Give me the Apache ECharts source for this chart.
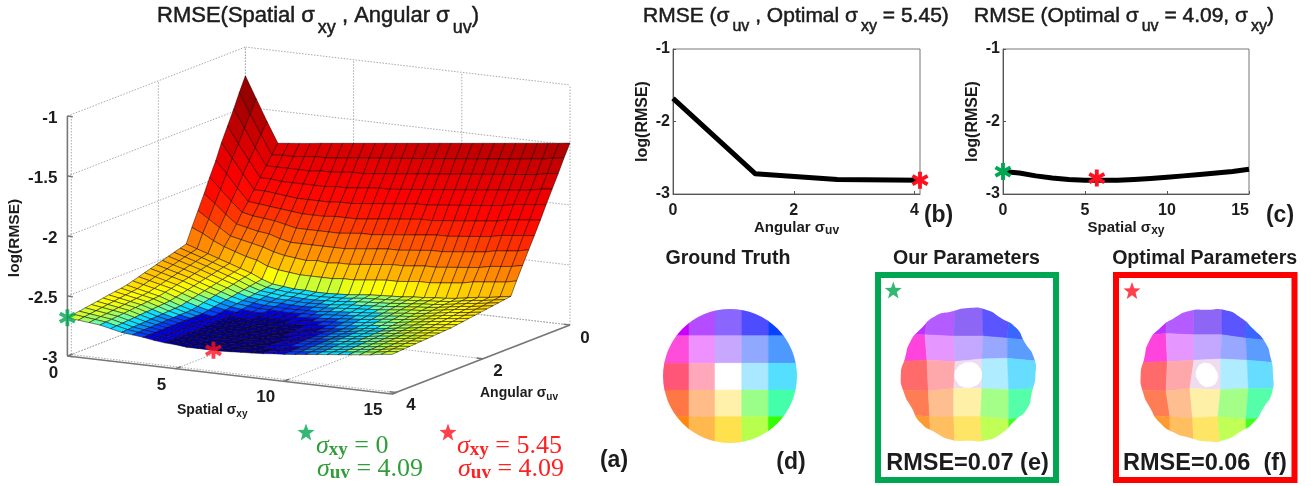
<!DOCTYPE html>
<html><head><meta charset="utf-8">
<style>html,body{margin:0;padding:0;background:#fff}#main{width:1312px;height:486px;filter:blur(0.6px)}</style>
<script src="https://cdn.jsdelivr.net/npm/echarts@6/dist/echarts.min.js"></script>
</head><body><div id="main"></div>
<script>
// ---------- panel (a) grid ----------
const xGrid=[0,0.5,1,1.5,2,2.5,3,3.5,4,4.5,5,5.5,6,6.5,7,7.5,8,8.5,9,9.5,10,10.5,11,11.5,12,12.5,13,13.5,14,14.5,15];
const uvGrid=[0,0.14,0.27,0.41,0.55,0.68,0.82,0.95,1.09,1.23,1.36,1.5,1.64,1.77,1.91,2.05,2.18,2.32,2.45,2.59,2.73,2.86,3,3.14,3.27,3.41,3.54,3.68,3.82,3.95,4.09];
const zRow00=[-1.24,-1.42,-1.6,-1.77,-1.76,-1.75,-1.74,-1.728,-1.718,-1.707,-1.697,-1.686,-1.676,-1.665,-1.655,-1.644,-1.634,-1.623,-1.612,-1.602,-1.591,-1.581,-1.57,-1.56,-1.549,-1.538,-1.528,-1.517,-1.507,-1.496,-1.484];
const zRow01=[-1.36,-1.53,-1.69,-1.85,-1.84,-1.84,-1.83,-1.82,-1.82,-1.81,-1.8,-1.79,-1.78,-1.77,-1.76,-1.75,-1.74,-1.73,-1.72,-1.71,-1.7,-1.69,-1.68,-1.67,-1.66,-1.65,-1.64,-1.63,-1.62,-1.6,-1.59];
const zRow02=[-1.48,-1.63,-1.78,-1.92,-1.92,-1.92,-1.92,-1.92,-1.91,-1.91,-1.9,-1.89,-1.89,-1.88,-1.87,-1.86,-1.85,-1.84,-1.83,-1.82,-1.81,-1.8,-1.79,-1.78,-1.77,-1.76,-1.75,-1.74,-1.73,-1.71,-1.7];
const zRow03=[-1.6,-1.74,-1.87,-2,-2,-2.01,-2.01,-2.01,-2.01,-2.01,-2,-2,-1.99,-1.98,-1.97,-1.97,-1.96,-1.95,-1.94,-1.93,-1.92,-1.91,-1.9,-1.89,-1.88,-1.87,-1.86,-1.85,-1.84,-1.82,-1.81];
const zRow04=[-1.72,-1.84,-1.96,-2.08,-2.08,-2.09,-2.1,-2.11,-2.11,-2.11,-2.11,-2.1,-2.1,-2.09,-2.08,-2.07,-2.06,-2.05,-2.04,-2.04,-2.03,-2.02,-2.01,-2,-1.99,-1.98,-1.97,-1.95,-1.94,-1.93,-1.92];
const zRow05=[-1.85,-1.95,-2.06,-2.16,-2.17,-2.18,-2.19,-2.2,-2.21,-2.21,-2.21,-2.2,-2.2,-2.2,-2.19,-2.18,-2.17,-2.16,-2.15,-2.14,-2.14,-2.13,-2.12,-2.11,-2.1,-2.09,-2.08,-2.06,-2.05,-2.04,-2.03];
const zRow06=[-1.97,-2.06,-2.15,-2.23,-2.25,-2.26,-2.27,-2.29,-2.31,-2.31,-2.31,-2.31,-2.31,-2.3,-2.29,-2.29,-2.28,-2.27,-2.26,-2.25,-2.24,-2.23,-2.23,-2.22,-2.21,-2.2,-2.19,-2.17,-2.16,-2.15,-2.14];
const zRow07=[-2.09,-2.16,-2.24,-2.31,-2.33,-2.35,-2.36,-2.39,-2.41,-2.41,-2.41,-2.41,-2.41,-2.41,-2.4,-2.39,-2.38,-2.37,-2.37,-2.36,-2.35,-2.34,-2.34,-2.33,-2.32,-2.31,-2.3,-2.28,-2.27,-2.26,-2.24];
const zRow08=[-2.21,-2.27,-2.33,-2.39,-2.41,-2.43,-2.45,-2.48,-2.5,-2.51,-2.52,-2.51,-2.52,-2.51,-2.51,-2.5,-2.49,-2.48,-2.47,-2.47,-2.46,-2.45,-2.45,-2.44,-2.43,-2.42,-2.41,-2.39,-2.38,-2.37,-2.35];
const zRow09=[-2.33,-2.37,-2.42,-2.46,-2.49,-2.52,-2.54,-2.58,-2.6,-2.61,-2.62,-2.62,-2.62,-2.62,-2.61,-2.61,-2.6,-2.59,-2.58,-2.58,-2.57,-2.56,-2.56,-2.55,-2.54,-2.53,-2.51,-2.5,-2.49,-2.48,-2.46];
const zRow10=[-2.45,-2.48,-2.51,-2.54,-2.57,-2.6,-2.63,-2.67,-2.7,-2.71,-2.72,-2.72,-2.725,-2.725,-2.72,-2.715,-2.705,-2.695,-2.69,-2.685,-2.68,-2.67,-2.665,-2.655,-2.65,-2.64,-2.625,-2.61,-2.6,-2.585,-2.57];
const zRow11=[-2.465,-2.494,-2.523,-2.552,-2.582,-2.612,-2.642,-2.68,-2.708,-2.718,-2.728,-2.728,-2.733,-2.733,-2.728,-2.724,-2.714,-2.704,-2.699,-2.693,-2.688,-2.678,-2.672,-2.662,-2.656,-2.646,-2.631,-2.616,-2.606,-2.592,-2.577];
const zRow12=[-2.48,-2.508,-2.536,-2.564,-2.594,-2.624,-2.653,-2.689,-2.716,-2.726,-2.736,-2.736,-2.741,-2.741,-2.736,-2.732,-2.722,-2.713,-2.707,-2.701,-2.695,-2.685,-2.678,-2.668,-2.662,-2.651,-2.637,-2.622,-2.612,-2.598,-2.584];
const zRow13=[-2.495,-2.522,-2.549,-2.576,-2.606,-2.636,-2.665,-2.699,-2.724,-2.734,-2.744,-2.744,-2.749,-2.749,-2.744,-2.741,-2.731,-2.722,-2.716,-2.709,-2.703,-2.693,-2.685,-2.675,-2.668,-2.657,-2.643,-2.628,-2.618,-2.605,-2.591];
const zRow14=[-2.51,-2.536,-2.562,-2.588,-2.618,-2.648,-2.676,-2.708,-2.732,-2.742,-2.752,-2.752,-2.757,-2.757,-2.752,-2.749,-2.739,-2.731,-2.724,-2.717,-2.71,-2.7,-2.691,-2.681,-2.674,-2.662,-2.649,-2.634,-2.624,-2.611,-2.598];
const zRow15=[-2.525,-2.55,-2.575,-2.6,-2.63,-2.66,-2.688,-2.718,-2.74,-2.75,-2.76,-2.76,-2.765,-2.765,-2.76,-2.758,-2.748,-2.74,-2.733,-2.725,-2.718,-2.708,-2.698,-2.688,-2.68,-2.668,-2.655,-2.64,-2.63,-2.618,-2.605];
const zRow16=[-2.54,-2.564,-2.588,-2.612,-2.642,-2.672,-2.699,-2.727,-2.748,-2.758,-2.768,-2.768,-2.773,-2.773,-2.768,-2.766,-2.756,-2.749,-2.741,-2.733,-2.725,-2.715,-2.704,-2.694,-2.686,-2.673,-2.661,-2.646,-2.636,-2.624,-2.612];
const zRow17=[-2.555,-2.578,-2.601,-2.624,-2.654,-2.684,-2.711,-2.737,-2.756,-2.766,-2.776,-2.776,-2.781,-2.781,-2.776,-2.775,-2.765,-2.758,-2.75,-2.741,-2.733,-2.723,-2.711,-2.701,-2.692,-2.679,-2.667,-2.652,-2.642,-2.631,-2.619];
const zRow18=[-2.57,-2.592,-2.614,-2.636,-2.666,-2.696,-2.722,-2.746,-2.764,-2.774,-2.784,-2.784,-2.789,-2.789,-2.784,-2.783,-2.773,-2.767,-2.758,-2.749,-2.74,-2.73,-2.717,-2.707,-2.698,-2.684,-2.673,-2.658,-2.648,-2.637,-2.626];
const zRow19=[-2.585,-2.606,-2.627,-2.648,-2.678,-2.708,-2.734,-2.756,-2.772,-2.782,-2.792,-2.792,-2.797,-2.797,-2.792,-2.792,-2.782,-2.776,-2.767,-2.757,-2.748,-2.738,-2.724,-2.714,-2.704,-2.69,-2.679,-2.664,-2.654,-2.644,-2.633];
const zRow20=[-2.6,-2.62,-2.64,-2.66,-2.69,-2.72,-2.745,-2.765,-2.78,-2.79,-2.8,-2.8,-2.805,-2.805,-2.8,-2.8,-2.79,-2.785,-2.775,-2.765,-2.755,-2.745,-2.73,-2.72,-2.71,-2.695,-2.685,-2.67,-2.66,-2.65,-2.64];
const zRow21=[-2.608,-2.627,-2.646,-2.665,-2.694,-2.723,-2.747,-2.766,-2.781,-2.791,-2.8,-2.801,-2.806,-2.806,-2.801,-2.801,-2.791,-2.786,-2.777,-2.767,-2.757,-2.747,-2.733,-2.723,-2.713,-2.698,-2.688,-2.674,-2.664,-2.653,-2.643];
const zRow22=[-2.616,-2.634,-2.652,-2.67,-2.698,-2.726,-2.748,-2.766,-2.781,-2.791,-2.8,-2.802,-2.806,-2.806,-2.802,-2.801,-2.792,-2.787,-2.778,-2.768,-2.759,-2.749,-2.735,-2.725,-2.715,-2.701,-2.691,-2.677,-2.667,-2.656,-2.646];
const zRow23=[-2.624,-2.641,-2.658,-2.675,-2.702,-2.729,-2.75,-2.767,-2.782,-2.792,-2.8,-2.803,-2.807,-2.807,-2.803,-2.802,-2.793,-2.788,-2.78,-2.77,-2.761,-2.751,-2.738,-2.728,-2.718,-2.704,-2.694,-2.681,-2.671,-2.659,-2.649];
const zRow24=[-2.632,-2.648,-2.664,-2.68,-2.706,-2.732,-2.751,-2.767,-2.782,-2.792,-2.8,-2.804,-2.807,-2.807,-2.804,-2.802,-2.794,-2.789,-2.781,-2.771,-2.763,-2.753,-2.74,-2.73,-2.72,-2.707,-2.697,-2.684,-2.674,-2.662,-2.652];
const zRow25=[-2.64,-2.655,-2.67,-2.685,-2.71,-2.735,-2.753,-2.768,-2.783,-2.793,-2.8,-2.805,-2.808,-2.808,-2.805,-2.803,-2.795,-2.79,-2.783,-2.773,-2.765,-2.755,-2.743,-2.733,-2.723,-2.71,-2.7,-2.688,-2.678,-2.665,-2.655];
const zRow26=[-2.648,-2.662,-2.676,-2.69,-2.714,-2.738,-2.754,-2.768,-2.783,-2.793,-2.8,-2.806,-2.808,-2.808,-2.806,-2.803,-2.796,-2.791,-2.784,-2.774,-2.767,-2.757,-2.745,-2.735,-2.725,-2.713,-2.703,-2.691,-2.681,-2.668,-2.658];
const zRow27=[-2.656,-2.669,-2.682,-2.695,-2.718,-2.741,-2.756,-2.769,-2.784,-2.794,-2.8,-2.807,-2.809,-2.809,-2.807,-2.804,-2.797,-2.792,-2.786,-2.776,-2.769,-2.759,-2.748,-2.738,-2.728,-2.716,-2.706,-2.695,-2.685,-2.671,-2.661];
const zRow28=[-2.664,-2.676,-2.688,-2.7,-2.722,-2.744,-2.757,-2.769,-2.784,-2.794,-2.8,-2.808,-2.809,-2.809,-2.808,-2.804,-2.798,-2.793,-2.787,-2.777,-2.771,-2.761,-2.75,-2.74,-2.73,-2.719,-2.709,-2.698,-2.688,-2.674,-2.664];
const zRow29=[-2.672,-2.683,-2.694,-2.705,-2.726,-2.747,-2.759,-2.77,-2.785,-2.795,-2.8,-2.809,-2.81,-2.81,-2.809,-2.805,-2.799,-2.794,-2.789,-2.779,-2.773,-2.763,-2.753,-2.743,-2.733,-2.722,-2.712,-2.702,-2.692,-2.677,-2.667];
const zRow30=[-2.68,-2.69,-2.7,-2.71,-2.73,-2.75,-2.76,-2.77,-2.785,-2.795,-2.8,-2.81,-2.81,-2.81,-2.81,-2.805,-2.8,-2.795,-2.79,-2.78,-2.775,-2.765,-2.755,-2.745,-2.735,-2.725,-2.715,-2.705,-2.695,-2.68,-2.67];
const surface=[zRow00,zRow01,zRow02,zRow03,zRow04,zRow05,zRow06,zRow07,zRow08,zRow09,zRow10,zRow11,zRow12,zRow13,zRow14,zRow15,zRow16,zRow17,zRow18,zRow19,zRow20,zRow21,zRow22,zRow23,zRow24,zRow25,zRow26,zRow27,zRow28,zRow29,zRow30];
const bandLimits=[-2.79,-2.772,-2.757,-2.74,-2.716,-2.70,-2.685,-2.665];
const bandColors=['#000090','#0000e0','#0040ff','#0090ff','#10e0ff','#70ffa0','#a0ff60','#ccff30'];
const jetZ=[-2.665,-2.6,-2.48,-2.35,-2.23,-2.12,-2.01,-1.9,-1.79,-1.68,-1.57,-1.24];
const jetT=[0.6,0.66,0.725,0.775,0.825,0.86,0.875,0.89,0.905,0.925,0.945,1];
const zTicks=[-3,-2.5,-2,-1.5,-1];
const zTickLabels=['-3','-2.5','-2','-1.5','-1'];
const xTicks3d=[0,5,10,15];
const uvTicks3d=[0,2,4];
const stars3d=[{p:[0,4.09,-2.68],c:'#00a651'},{p:[6.75,4.09,-2.81],c:'#ff1020'}];
// ---------- panels (b), (c) ----------
const uvCurveX=[0,1.36,2.72,4.09];
const uvCurveY=[-1.68,-2.72,-2.8,-2.81];
const xyCurveX=[0,1,2,3,4,5,6,7,8,9,10,11,12,13,14,15];
const xyCurveY=[-2.69,-2.71,-2.75,-2.78,-2.8,-2.81,-2.81,-2.81,-2.8,-2.785,-2.77,-2.75,-2.73,-2.71,-2.69,-2.66];
const starB=[[4.09,-2.81]];
const starCGreen=[[0,-2.69]];
const starCRed=[[5.72,-2.78]];
// ---------- panels (d), (e), (f) ----------
const colorsD=[['#c800ff','#b44dff','#8a66ff','#4d4dff','#0a40ff'],['#ff4ddb','#ee91ff','#c8a8ff','#91a8ff','#4d99ff'],['#ff5577','#ffa8bc','#ffffff','#aae8ff','#55dfff'],['#ff7744','#ffbb88','#fff0aa','#99ff88','#44ffaa'],['#ff8811','#ffb84d','#ffe04d','#b8ff4d','#33ff00']];
const colorsE=[['#bb33ff','#b45cff','#8e66f5','#5a55ff','#3a66ff'],['#ff44dd','#e696ff','#c4a8ff','#99a8ff','#5c9cff'],['#ff6a6a','#ffa8ac','#f0dcf0','#b0ecff','#66ddff'],['#ff7d55','#ffbe90','#fff0a8','#a4ff88','#55ffaa'],['#ff9933','#ffbe60','#ffe566','#c0ff55','#44ff22']];
const colorsF=[['#bb33ff','#b45cff','#8e66f5','#5a55ff','#3a66ff'],['#ff44dd','#e696ff','#c4a8ff','#99a8ff','#5c9cff'],['#ff6a6a','#ffa8ac','#f0dcf0','#b0ecff','#66ddff'],['#ff7d55','#ffbe90','#fff0a8','#a4ff88','#55ffaa'],['#ff9933','#ffbe60','#ffe566','#c0ff55','#44ff22']];
const nodesXD=[-1.1,-0.612,-0.224,0.175,0.572,1.1];
const nodesYD=[-1.1,-0.6,-0.19,0.21,0.607,1.1];
const nodesXE=[[-1.1,-0.58,-0.2,0.2,0.62,1.1],[-1.1,-0.65,-0.22,0.22,0.58,1.1],[-1.1,-0.62,-0.2,0.2,0.58,1.1],[-1.1,-0.6,-0.22,0.2,0.6,1.1],[-1.1,-0.58,-0.22,0.18,0.6,1.1],[-1.1,-0.56,-0.2,0.2,0.6,1.1]];
const nodesYE=[[-1.1,-1.1,-1.1,-1.1,-1.1,-1.1],[-0.6,-0.6,-0.58,-0.58,-0.55,-0.5],[-0.2,-0.22,-0.2,-0.24,-0.25,-0.2],[0.22,0.24,0.2,0.2,0.22,0.2],[0.58,0.62,0.62,0.62,0.66,0.62],[1.1,1.1,1.1,1.1,1.1,1.1]];
const nodesXF=[[-1.1,-0.6,-0.2,0.22,0.6,1.1],[-1.1,-0.62,-0.2,0.22,0.58,1.1],[-1.1,-0.6,-0.2,0.2,0.6,1.1],[-1.1,-0.62,-0.26,0.2,0.62,1.1],[-1.1,-0.56,-0.22,0.16,0.58,1.1],[-1.1,-0.56,-0.2,0.2,0.6,1.1]];
const nodesYF=[[-1.1,-1.1,-1.1,-1.1,-1.1,-1.1],[-0.58,-0.62,-0.6,-0.6,-0.55,-0.5],[-0.18,-0.2,-0.22,-0.24,-0.22,-0.18],[0.22,0.24,0.2,0.22,0.2,0.2],[0.6,0.62,0.64,0.62,0.66,0.62],[1.1,1.1,1.1,1.1,1.1,1.1]];
const outlineE=[1,0.98,1.01,0.97,1,1.01,0.98,1,0.99,1.01,0.98,1,1.01,0.98,1,0.99,1.01,0.98,1,1.01,0.98,1,0.97,1.01];
const outlineF=[0.99,1.01,0.98,1,0.99,1.01,1,0.98,1,1.01,0.99,1,1,0.98,1.01,1,0.99,1,0.98,1.01,1,0.98,1,0.99];
const blobE=[0.2,0.2,0.19,0.19,0.2,0.2,0.21,0.2,0.19,0.19,0.2,0.2];
const blobF=[0.16,0.17,0.18,0.18,0.17,0.16,0.17,0.18,0.19,0.18,0.16,0.15];
// five-armed annotation stars at page positions
const noteStars=[{p:[306,432],c:'#00a651'},{p:[448,432],c:'#ff1020'},{p:[893.3,290],c:'#00a651'},{p:[1132,290.5],c:'#ff1020'}];

const FF='"Liberation Sans",Arial,sans-serif';
const INK='#1c1c1c';
function project(x,uv,z){
  return [570-(uv/4.09)*178-(15-x)*21.64, 325+(uv/4.09)*69-(15-x)*2.53-(z+3)*120];
}
function jet(t){
  const c=v=>Math.round(255*Math.max(0,Math.min(1,v))).toString(16).padStart(2,'0');
  return '#'+c(1.5-Math.abs(4*t-3))+c(1.5-Math.abs(4*t-2))+c(1.5-Math.abs(4*t-1));
}
function cellColor(z){
  for(let k=0;k<bandLimits.length;k++) if(z<bandLimits[k]) return bandColors[k];
  for(let k=1;k<jetZ.length;k++) if(z<=jetZ[k]){
    const f=(z-jetZ[k-1])/(jetZ[k]-jetZ[k-1]);
    return jet(jetT[k-1]+f*(jetT[k]-jetT[k-1]));
  }
  return jet(1);
}
const cells=[];
for(let i=0;i<surface.length-1;i++) for(let j=0;j<xGrid.length-1;j++) cells.push([j,i]);
const wall=[];
const uvMax=4.09,xMax=15,zMin=-3,zMax=-1;
zTicks.forEach(z=>{wall.push([[0,uvMax,z],[0,0,z]]);wall.push([[0,0,z],[xMax,0,z]]);});
xTicks3d.forEach(x=>{wall.push([[x,0,zMin],[x,0,zMax]]);wall.push([[x,uvMax,zMin],[x,0,zMin]]);});
uvTicks3d.forEach(u=>{wall.push([[0,u,zMin],[0,u,zMax]]);wall.push([[0,u,zMin],[xMax,u,zMin]]);});
const axisLines=[[[0,uvMax,zMin],[0,uvMax,zMax]],[[0,uvMax,zMin],[xMax,uvMax,zMin]],[[xMax,uvMax,zMin],[xMax,0,zMin]]];
zTicks.forEach(z=>axisLines.push([[0,uvMax,z],[0.25,uvMax,z]]));
xTicks3d.forEach(x=>axisLines.push([[x,uvMax,zMin],[x,uvMax-0.12,zMin]]));
uvTicks3d.forEach(u=>axisLines.push([[xMax,u,zMin],[xMax-0.3,u,zMin]]));
const tickTexts=[];
zTicks.forEach((z,i)=>tickTexts.push({w:[0,uvMax,z],t:zTickLabels[i],dx:-10,dy:2,a:'right'}));
const xOff=[[-14,17],[-14,17],[-18,16],[-19,16]];
xTicks3d.forEach((x,i)=>tickTexts.push({w:[x,uvMax,zMin],t:String(x),dx:xOff[i][0],dy:xOff[i][1],a:'center'}));
uvTicks3d.forEach(u=>tickTexts.push({w:[xMax,u,zMin],t:String(u),dx:15,dy:13,a:'center'}));

function lineSeries(list,style,z){
  return {type:'custom',xAxisIndex:2,yAxisIndex:2,silent:true,clip:false,z:z,progressive:0,animation:false,
    data:list.map((_,i)=>[i,0]),
    renderItem(p,api){
      const s=list[api.value(0)];
      const a=api.coord(project(...s[0])),b=api.coord(project(...s[1]));
      return {type:'line',shape:{x1:a[0],y1:a[1],x2:b[0],y2:b[1]},style:style};
    }};
}
function wheelSeries(ax,colors,nx,ny,outline,blob){
  const list=[];
  for(let r=0;r<5;r++)for(let c=0;c<5;c++)list.push([c,r]);
  return {type:'custom',xAxisIndex:ax,yAxisIndex:ax,silent:true,clip:false,progressive:0,animation:false,z:3,
    data:list,
    renderItem(p,api){
      const c=api.value(0),r=api.value(1);
      const nxr=k=>Array.isArray(nx[0])?nx[k]:nx;
      const nyr=k=>Array.isArray(ny[0])?ny[k]:ny.map(()=>ny[k]);
      const P=(a,b)=>api.coord([nxr(a)[b],nyr(a)[b]]);
      const pts=[P(r,c),P(r,c+1),P(r+1,c+1),P(r+1,c)];
      const o=api.coord([0,0]),e=api.coord([1,0]);const R=e[0]-o[0];
      let clip;
      if(outline){
        clip={type:'polygon',shape:{smooth:0.6,points:outline.map((q,k)=>{const a=k/outline.length*2*Math.PI;return [o[0]+R*q*Math.cos(a),o[1]+R*q*Math.sin(a)];})}};
      }else clip={type:'circle',shape:{cx:o[0],cy:o[1],r:R}};
      const children=[{type:'polygon',shape:{points:pts},style:{fill:colors[r][c],stroke:colors[r][c],lineWidth:0.5},clipPath:clip}];
      if(blob&&r===2&&c===2){
        children.push({type:'polygon',shape:{smooth:0.5,points:blob.map((q,k)=>{const a=k/blob.length*2*Math.PI;return [o[0]+R*q*Math.cos(a),o[1]+R*q*Math.sin(a)];})},style:{fill:'#fff'},z2:50});
      }
      return {type:'group',children};
    }};
}
const FONT_TICK='bold 17px '+FF;
function subTitle(text,left,top,size,subSize,drop){
  const stroke={textBorderColor:INK,textBorderWidth:0.5};
  return {text,left,top,padding:0,textStyle:Object.assign({fontFamily:FF,fontWeight:'normal',fontSize:size,color:INK,lineHeight:size+4},stroke,{
    rich:{s:Object.assign({fontFamily:FF,fontWeight:'normal',fontSize:subSize,color:INK,padding:[drop,0,0,3],lineHeight:subSize},stroke)}})};
}
function plotAxisX(grid,max,interval,name,alignMax){
  return {type:'value',gridIndex:grid,min:0,max,interval,name,nameLocation:'middle',nameGap:19,
    nameTextStyle:{fontFamily:FF,fontWeight:'bold',fontSize:15,color:INK,rich:{s:{fontFamily:FF,fontWeight:'bold',fontSize:12,color:INK,padding:[7,0,0,0]}}},
    axisLine:{show:true,lineStyle:{color:'#555',width:1}},axisTick:{show:true,inside:true,length:3,lineStyle:{color:'#555'}},splitLine:{show:false},
    axisLabel:{show:true,showMaxLabel:alignMax,alignMaxLabel:alignMax?'right':null,fontFamily:FF,fontWeight:'bold',fontSize:16,color:INK,margin:9}};
}
function plotAxisY(grid){
  return {type:'value',gridIndex:grid,min:-3,max:-1,interval:1,name:'log(RMSE)',nameLocation:'middle',nameGap:22,
    nameTextStyle:{fontFamily:FF,fontWeight:'bold',fontSize:16,color:INK},
    axisLine:{show:true,lineStyle:{color:'#555',width:1}},axisTick:{show:true,inside:true,length:3,lineStyle:{color:'#555'}},splitLine:{show:false},
    axisLabel:{show:true,fontFamily:FF,fontWeight:'bold',fontSize:16,color:INK,margin:3}};
}
const hiddenAxis=(g,min,max,inv)=>({type:'value',gridIndex:g,min,max,inverse:!!inv,show:false,scale:false});
const ASTER6='path://M-2.2 -10L2.2 -10L2.2 10L-2.2 10ZM7.56 -6.905L9.76 -3.095L-7.56 6.905L-9.76 3.095ZM-9.76 -3.095L-7.56 -6.905L9.76 3.095L7.56 6.905Z';
const STAR5='path://M0 -10L2.44 -3.37L9.51 -3.09L3.95 1.29L5.88 8.09L0 4.2L-5.88 8.09L-3.95 1.29L-9.51 -3.09L-2.44 -3.37Z';
const curve=(g,xs,ys)=>({type:'line',xAxisIndex:g,yAxisIndex:g,data:xs.map((x,i)=>[x,ys[i]]),showSymbol:false,symbol:'none',lineStyle:{color:'#000',width:5,join:'round'},animation:false,silent:true,z:3});
const star=(g,data,color,sym,size)=>({type:'scatter',xAxisIndex:g,yAxisIndex:g,data,symbol:sym,symbolSize:size,itemStyle:{color,opacity:1},animation:false,silent:true,z:6,clip:false});

function eq(x,y,a,b,color){
  const S='"Liberation Serif",serif';
  return {type:'text',x,y,z:20,style:{text:'{i|σ}{b|'+a+'}{n| = '+b+'}',fill:color,rich:{
    i:{fontFamily:S,fontStyle:'italic',fontSize:26,fill:color},
    b:{fontFamily:S,fontWeight:'bold',fontSize:19,fill:color,padding:[8,0,0,0]},
    n:{fontFamily:S,fontSize:26,fill:color}}}};
}
const label=(x,y,t,size,weight,extra)=>Object.assign({type:'text',x,y,z:20,style:{text:t,fill:INK,font:(weight||'bold')+' '+size+'px '+FF,align:'center',verticalAlign:'middle',textAlign:'center',textVerticalAlign:'middle'}},extra||{});
const richAxis=(x,y,t,s)=>({type:'text',x,y,z:20,style:{text:t+'{s|'+s+'}',fill:INK,font:'bold 14px '+FF,rich:{s:{font:'bold 10px '+FF,fill:INK,padding:[7,0,0,0]}}}});
const frame=(x,y,w,h,c)=>({type:'rect',z:2,shape:{x,y,width:w,height:h},style:{fill:'none',stroke:c,lineWidth:6}});

const option={
  animation:false,backgroundColor:'#fff',
  title:[
    subTitle('RMSE(Spatial σ{s|xy} , Angular σ{s|uv})',157,3,22,18,24),
    subTitle('RMSE (σ{s|uv} , Optimal σ{s|xy} = 5.45)',643,4,21,16,20),
    subTitle('RMSE (Optimal σ{s|uv} = 4.09, σ{s|xy})',974,4,21,16,20)
  ],
  grid:[
    {left:673,top:49,width:247,height:145,show:true,borderColor:'#777',borderWidth:1,backgroundColor:'transparent'},
    {left:1003,top:49,width:246,height:145,show:true,borderColor:'#777',borderWidth:1,backgroundColor:'transparent'},
    {left:0,top:0,width:1312,height:486},
    {left:663,top:309,width:134,height:134},
    {left:901.5,top:308,width:134,height:134},
    {left:1140.7,top:308,width:133,height:134}
  ],
  xAxis:[
    plotAxisX(0,4.09,2,'Angular σ{s|uv}',false),plotAxisX(1,15,5,'Spatial σ{s|xy}',true),
    hiddenAxis(2,0,1312),hiddenAxis(3,-1,1),hiddenAxis(4,-1,1),hiddenAxis(5,-1,1)
  ],
  yAxis:[
    plotAxisY(0),plotAxisY(1),
    hiddenAxis(2,0,486,true),hiddenAxis(3,-1,1,true),hiddenAxis(4,-1,1,true),hiddenAxis(5,-1,1,true)
  ],
  series:[
    curve(0,uvCurveX,uvCurveY),
    star(0,starB,'#ff1020',ASTER6,17),
    curve(1,xyCurveX,xyCurveY),
    star(1,starCGreen,'#00a651',ASTER6,17),
    star(1,starCRed,'#ff1020',ASTER6,17),
    lineSeries(wall,{stroke:'#aaa',lineWidth:1,lineDash:[1.5,1.5],fill:null},1),
    lineSeries(axisLines,{stroke:'#777',lineWidth:1.6,fill:null},2),
    {type:'custom',xAxisIndex:2,yAxisIndex:2,silent:true,clip:false,z:3,progressive:0,animation:false,data:cells,
      renderItem(p,api){
        const j=api.value(0),i=api.value(1);
        const pts=[[i,j],[i,j+1],[i+1,j+1],[i+1,j]].map(q=>api.coord(project(xGrid[q[1]],uvGrid[q[0]],surface[q[0]][q[1]])));
        const z=(surface[i][j]+surface[i][j+1]+surface[i+1][j]+surface[i+1][j+1])/4;
        return {type:'polygon',shape:{points:pts},style:{fill:cellColor(z),stroke:'rgba(20,0,0,0.72)',lineWidth:0.7,lineJoin:'round'}};
      }},
    {type:'custom',xAxisIndex:2,yAxisIndex:2,silent:true,clip:false,z:4,progressive:0,animation:false,data:tickTexts.map((_,i)=>[i,0]),
      renderItem(p,api){
        const t=tickTexts[api.value(0)];
        const a=api.coord(project(...t.w));
        return {type:'text',x:a[0]+t.dx,y:a[1]+t.dy,style:{text:t.t,font:FONT_TICK,fill:INK,align:t.a,verticalAlign:'middle',textAlign:t.a,textVerticalAlign:'middle'}};
      }},
    {type:'scatter',xAxisIndex:2,yAxisIndex:2,silent:true,animation:false,z:6,symbol:ASTER6,symbolSize:17,clip:false,
      data:stars3d.map(s=>({value:project(...s.p),itemStyle:{color:s.c}}))},
    {type:'scatter',xAxisIndex:2,yAxisIndex:2,silent:true,animation:false,z:7,symbol:STAR5,symbolSize:17,clip:false,
      data:noteStars.map(s=>({value:s.p,itemStyle:{color:s.c}}))},
    wheelSeries(3,colorsD,nodesXD,nodesYD,null,null),
    wheelSeries(4,colorsE,nodesXE,nodesYE,outlineE,blobE),
    wheelSeries(5,colorsF,nodesXF,nodesYF,outlineF,blobF)
  ],
  graphic:{elements:[
    label(15,238,'log(RMSE)',15.5,'bold',{rotation:Math.PI/2}),
    richAxis(177,402,'Spatial σ','xy'),
    richAxis(480,385,'Angular σ','uv'),
    eq(316,433,'xy','0','#2f9e3a'),
    eq(317,456,'uv','4.09','#2f9e3a'),
    eq(457,433,'xy','5.45','#ff2020'),
    eq(458,456,'uv','4.09','#ff2020'),
    label(614,461,'(a)',23),label(938.6,216,'(b)',23),label(1280,216,'(c)',23),label(791,463,'(d)',23),
    label(728,259,'Ground Truth',19.6),label(966.4,259,'Our Parameters',19.6),label(1204.7,259,'Optimal Parameters',19.6),
    frame(878,275,178,205,'#00a651'),frame(1116,275,178.5,205,'#ff0000'),
    label(967.5,464,'RMSE=0.07 (e)',23.5),label(1205,464,'RMSE=0.06  (f)',23.5)
  ]}
};
const chart=echarts.init(document.getElementById('main'));
chart.setOption(option);
</script></body></html>
